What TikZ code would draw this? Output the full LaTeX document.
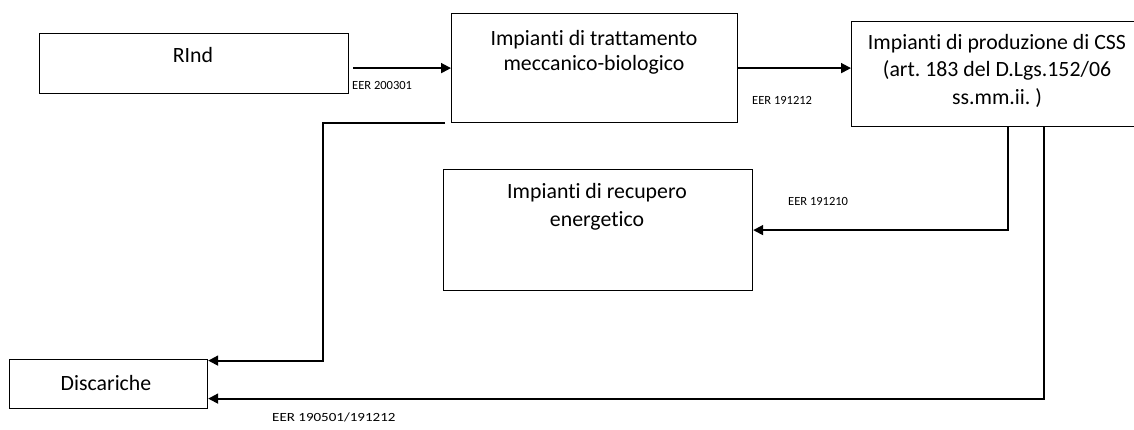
\documentclass[tikz,border=0pt]{standalone}
\usepackage{fontspec}
\setmainfont{Carlito}[Ligatures=NoCommon]
\usetikzlibrary{arrows.meta}
\frenchspacing
\begin{document}
\begin{tikzpicture}[x=1pt,y=-1pt,
  box/.style={draw, line width=1.2pt, rectangle, inner sep=0pt, anchor=north west},
  txt/.style={font=\fontsize{21.8}{26}\selectfont\frenchspacing, inner sep=0pt, anchor=base},
  lbl/.style={font=\fontsize{12.5}{15}\selectfont, inner sep=0pt, anchor=base west},
  arr/.style={line width=1.8pt, -{Triangle[length=10pt,width=10pt]}}]
\useasboundingbox (0,0) rectangle (1134,430);
\clip (0,0) rectangle (1134,430);
% boxes
\node[box, minimum width=309pt, minimum height=60pt] (rind) at (39,33) {};
\node[box, minimum width=286pt, minimum height=109pt] (mbt) at (451,13) {};
\node[box, minimum width=292pt, minimum height=105pt] (css) at (851,21) {};
\node[box, minimum width=309pt, minimum height=121pt] (rec) at (443,169) {};
\node[box, minimum width=198pt, minimum height=49pt] (dis) at (9,359) {};
% box texts
\node[txt] (trind) at (193,63) {RInd};
\node[txt] (tmbt1) at (594,46) {Impianti di trattamento};
\node[txt] (tmbt2) at (594,71) {meccanico-biologico};
\node[txt] (tcss1) at (997,50) {Impianti di produzione di CSS};
\node[txt] (tcss2) at (997,77) {(art. 183 del D.Lgs.152/06};
\node[txt] (tcss3) at (997,105) {ss.mm.ii. )};
\node[txt] (trec1) at (597,199) {Impianti di recupero};
\node[txt] (trec2) at (597,226) {energetico};
\node[txt] (tdis) at (106,390) {Discariche};
% connector labels
\node[lbl] (l1) at (352,90) {EER 200301};
\node[lbl] (l2) at (752,105) {EER 191212};
\node[lbl] (l3) at (788,206) {EER 191210};
\node[lbl, xscale=1.2] (l4) at (272,421) {EER 190501/191212};
% connectors
\draw[arr] (rind.east |- mbt.west) ++(4,0) -- (mbt.west);
\draw[arr] (mbt.east) -- (mbt.east -| css.west);
\draw[arr] ([xshift=10pt]css.south) |- (rec.east);
\draw[arr] ([xshift=46pt]css.south) |- ([yshift=-14.5pt]dis.east);
\draw[arr] ([xshift=-6pt]mbt.south west) -- ++(-122,0) |- ([yshift=23.5pt]dis.east);
\end{tikzpicture}
\end{document}
